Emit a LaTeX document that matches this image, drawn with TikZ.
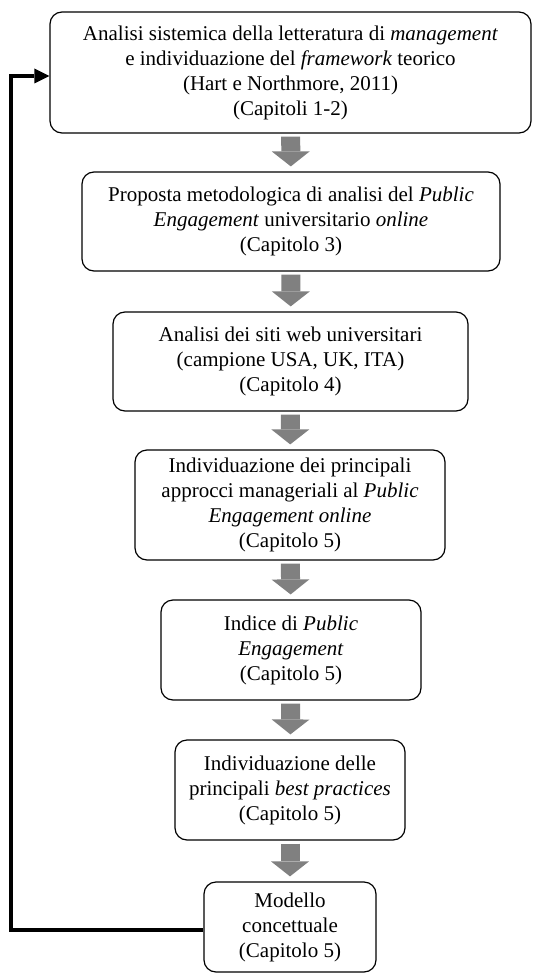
\documentclass[tikz,border=0pt]{standalone}
\usepackage{fontspec}
\setmainfont{Liberation Serif}
\usetikzlibrary{arrows.meta}
\tikzset{
stepbox/.style={draw=black,line width=0.6pt,rounded corners=6pt,align=center,inner sep=2pt},
blockarrow/.style={line width=9.5pt,black!50,-{Triangle[width=19pt,length=7.5pt,line width=0pt]},shorten <=1.5pt,shorten >=2.5pt},
loopline/.style={line width=1.6pt,-{Triangle[width=7.5pt,length=7.5pt,line width=0pt]}}
}
\begin{document}
\begin{tikzpicture}[x=0.5pt,y=-0.5pt,every node/.style={font=\fontsize{10.5}{12.5}\selectfont}]
\useasboundingbox (0,0) rectangle (533,974);
\node[stepbox,minimum width=240.5pt,minimum height=60.5pt] (letteratura) at (290.5,72.5) {Analisi sistemica della letteratura di \textit{management}\\ e individuazione del \textit{framework} teorico\\ (Hart e Northmore, 2011)\\ (Capitoli 1-2)};
\node[stepbox,minimum width=209pt,minimum height=49.5pt] (proposta) at (291,221.5) {Proposta metodologica di analisi del \textit{Public}\\ \textit{Engagement} universitario \textit{online}\\ (Capitolo 3)};
\node[stepbox,minimum width=177.5pt,minimum height=49.5pt] (siti) at (290.5,361.5) {Analisi dei siti web universitari\\ (campione USA, UK, ITA)\\ (Capitolo 4)};
\node[stepbox,minimum width=155pt,minimum height=55pt] (approcci) at (290,505) {Individuazione dei principali\\ approcci manageriali al \textit{Public}\\ \textit{Engagement online}\\ (Capitolo 5)};
\node[stepbox,minimum width=130pt,minimum height=50pt] (indice) at (291,650) {Indice di \textit{Public}\\ \textit{Engagement}\\ (Capitolo 5)};
\node[stepbox,minimum width=115pt,minimum height=50pt] (pratiche) at (290,790) {Individuazione delle\\ principali \textit{best practices}\\ (Capitolo 5)};
\node[stepbox,minimum width=86pt,minimum height=45pt] (modello) at (290,927) {Modello\\ concettuale\\ (Capitolo 5)};
% frecce grigie
\draw[blockarrow] (letteratura) -- (proposta);
\draw[blockarrow] (proposta) -- (siti);
\draw[blockarrow] (siti) -- (approcci);
\draw[blockarrow] (approcci) -- (indice);
\draw[blockarrow] (indice) -- (pratiche);
\draw[blockarrow] (pratiche) -- (modello);
% ritorno
\coordinate (ritorno) at (11,500);
\draw[loopline] ([yshift=-1.5pt]modello.west) -| (ritorno) |- ([yshift=-1.75pt]letteratura.west);
\end{tikzpicture}
\end{document}
